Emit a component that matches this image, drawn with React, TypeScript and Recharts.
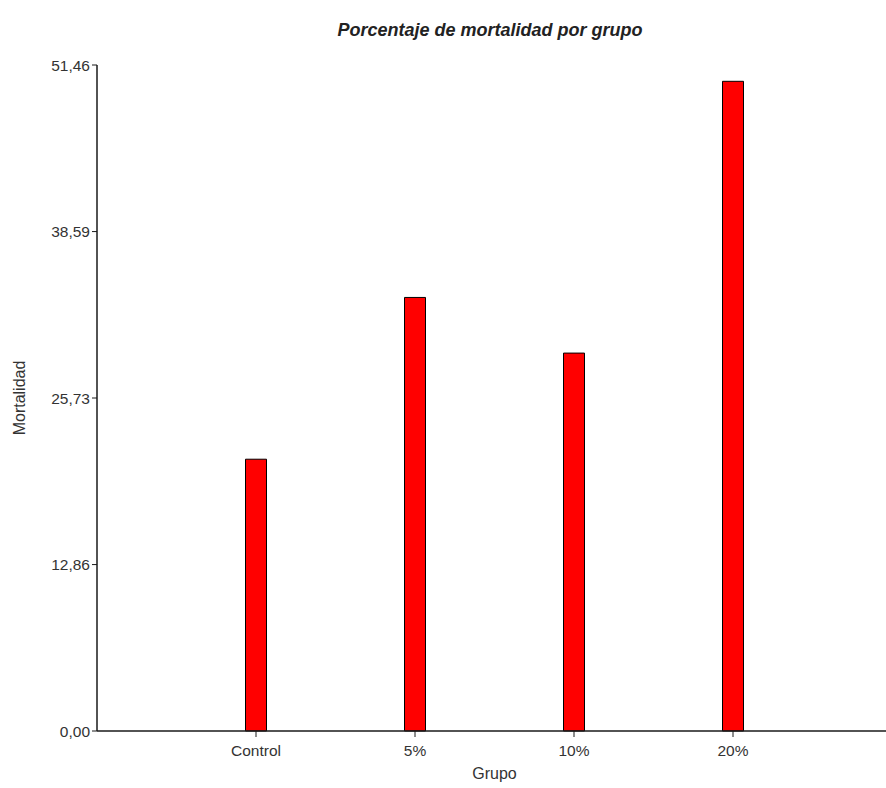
import { BarChart, Bar, XAxis, YAxis } from "recharts";

// valores
const grupos = ["Control", "5%", "10%", "20%"];
const mortalidad = [21.0, 33.5, 29.2, 50.2];
const yTicks = [0, 12.86, 25.73, 38.59, 51.46];

const data = grupos.map((grupo, i) => ({ grupo, mortalidad: mortalidad[i] }));

const FONT = '"Liberation Sans", Arial, sans-serif';
const TEXT = "#333";
const AXIS = "#1a1a1a";

const formatTick = (v: number) => v.toFixed(2).replace(".", ",");

// título vertical del eje Y, centrado en la altura del eje
const YTitle = ({ viewBox }: any) => {
  const cx = 19;
  const cy = viewBox.y + viewBox.height / 2;
  return (
    <text
      x={cx}
      y={cy}
      transform={`rotate(-90, ${cx}, ${cy})`}
      textAnchor="middle"
      dominantBaseline="central"
      fill={TEXT}
      fontSize={16}
      fontFamily={FONT}
    >
      Mortalidad
    </text>
  );
};

export default function App() {
  return (
    <div
      style={{
        position: "absolute",
        top: 0,
        left: 0,
        width: 886,
        height: 788,
        overflow: "hidden",
        background: "#fff",
      }}
    >
      <div
        style={{
          position: "absolute",
          top: 19,
          left: 90,
          width: 800,
          textAlign: "center",
          fontFamily: FONT,
          fontSize: 18,
          lineHeight: "22px",
          fontWeight: "bold",
          fontStyle: "italic",
          color: "#222",
        }}
      >
        Porcentaje de mortalidad por grupo
      </div>
      <BarChart
        width={900}
        height={788}
        data={data}
        margin={{ top: 65, right: 8, bottom: 8, left: 0 }}
      >
        <XAxis
          dataKey="grupo"
          height={49}
          padding={{ left: 79.5, right: 79.5 }}
          tickSize={6}
          tickMargin={8}
          tick={{ fontSize: 15.5, fill: TEXT, fontFamily: FONT }}
          axisLine={{ stroke: AXIS, strokeWidth: 1.5 }}
          tickLine={{ stroke: AXIS }}
          label={{
            value: "Grupo",
            position: "insideBottom",
            offset: 1,
            fontSize: 16,
            fill: TEXT,
            fontFamily: FONT,
          }}
        />
        <YAxis
          width={97}
          domain={[0, 51.46]}
          ticks={yTicks}
          interval={0}
          tickFormatter={formatTick}
          tickSize={5}
          tickMargin={2}
          tick={{ fontSize: 15.5, fill: TEXT, fontFamily: FONT }}
          axisLine={{ stroke: AXIS, strokeWidth: 1.5 }}
          tickLine={{ stroke: AXIS }}
          label={{ content: YTitle }}
        />
        <Bar
          dataKey="mortalidad"
          barSize={21}
          fill="#ff0000"
          stroke="#000"
          strokeWidth={1}
          isAnimationActive={false}
        />
      </BarChart>
    </div>
  );
}
